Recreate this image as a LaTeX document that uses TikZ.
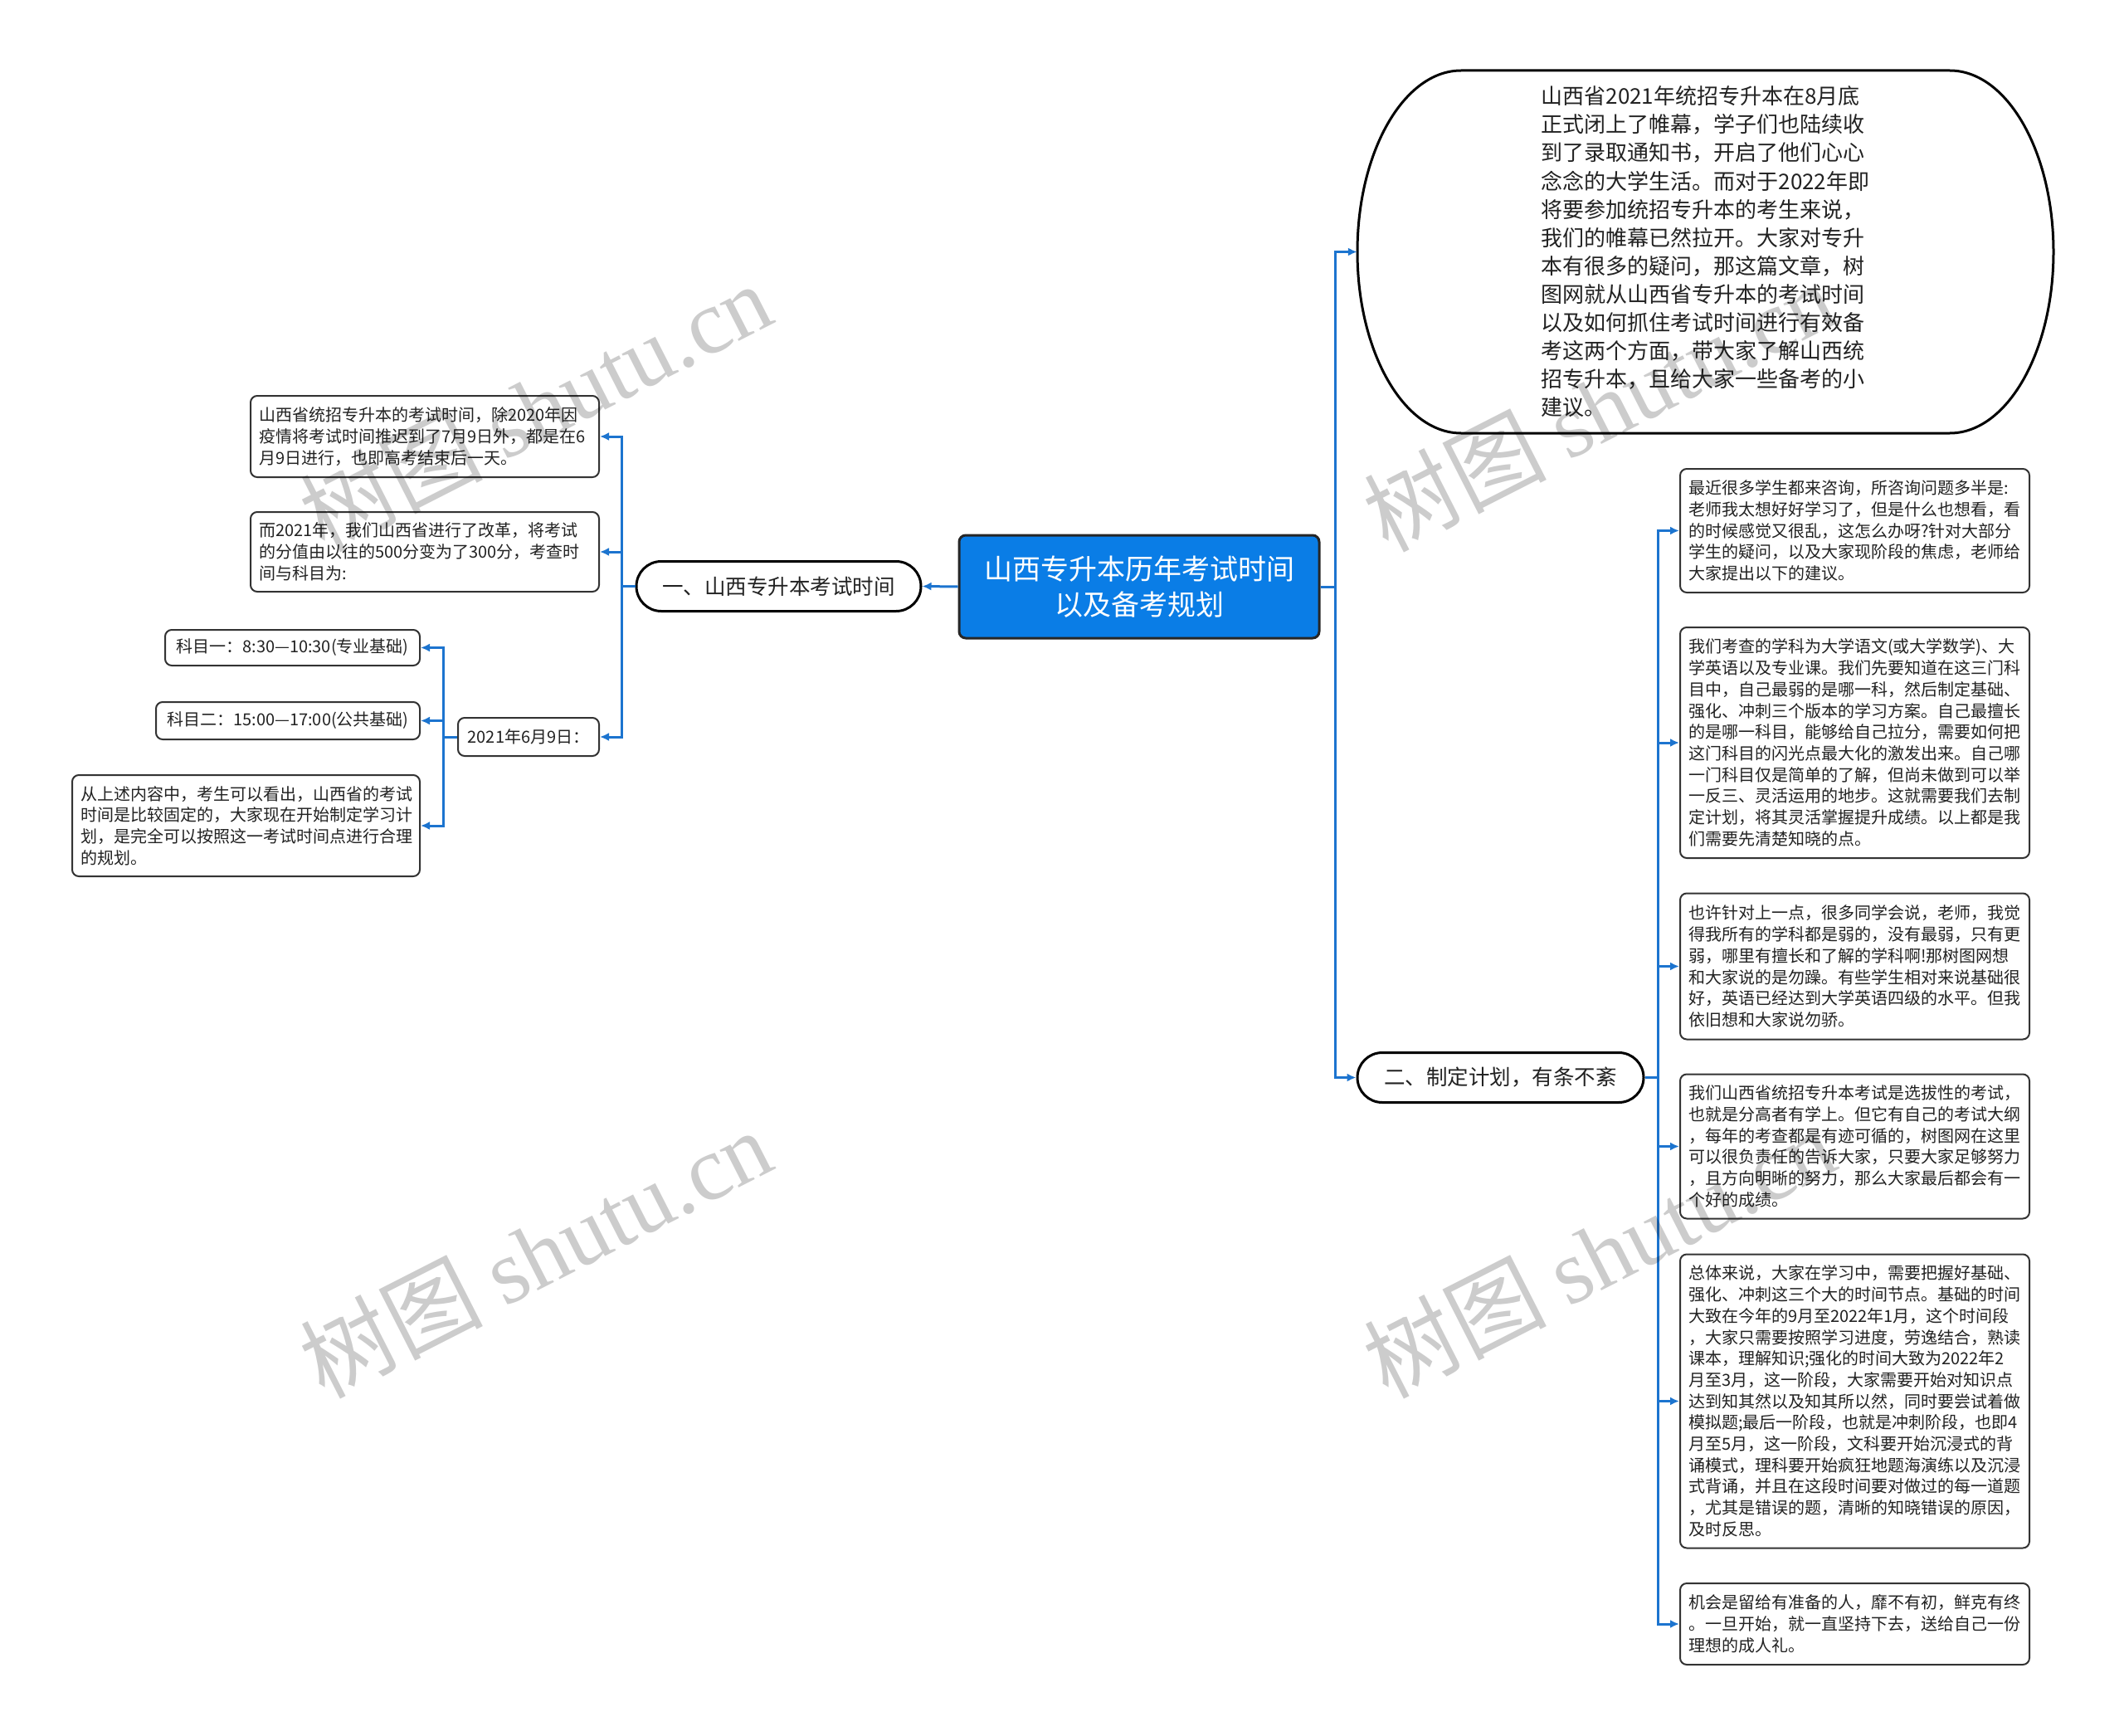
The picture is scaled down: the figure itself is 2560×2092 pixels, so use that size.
\documentclass[tikz,border=0pt]{standalone}
\usepackage{fontspec}
\setmainfont{Noto Sans CJK SC}
\newfontfamily\wmserif{Liberation Serif}
\usetikzlibrary{arrows.meta}
\definecolor{rootC}{HTML}{0A7DE6}
\definecolor{connC}{HTML}{1C74CF}
\definecolor{bordC}{HTML}{333333}
\definecolor{txtC}{HTML}{222222}
\tikzset{
  leaf/.style={draw=bordC, line width=2pt, rounded corners=8pt, fill=white, align=left,
    inner xsep=10pt, inner ysep=0pt, text=txtC, font=\fontsize{20pt}{25.7pt}\selectfont},
  leafc/.style={draw=bordC, line width=2pt, rounded corners=8pt, fill=white, align=center,
    inner xsep=8pt, inner ysep=0pt, text=txtC, font=\fontsize{20pt}{25.7pt}\selectfont},
  branch/.style={draw=black, line width=3pt, rounded corners=30pt, fill=white, align=center,
    inner sep=0pt, text=txtC, font=\fontsize{25.5pt}{32pt}\selectfont},
  rootbox/.style={draw=black!85, line width=3pt, rounded corners=8pt, fill=rootC, align=center,
    inner sep=0pt, text=white, font=\fontsize{34pt}{43pt}\selectfont},
  conn/.style={draw=connC, line width=3pt, -{Latex[length=11pt,width=10pt]}},
  wm/.style={text=black, opacity=0.2, font=\fontsize{110pt}{110pt}\selectfont, inner sep=0pt},
}
\begin{document}
\begin{tikzpicture}[x=1pt,y=-1pt]
\useasboundingbox (0,0) rectangle (2560,2092);
\fill[white] (0,0) rectangle (2560,2092);

% root
\node[rootbox, minimum width=434pt, minimum height=124pt] (root) at (1373,707)
  {山西专升本历年考试时间\\以及备考规划};

% branches
\node[branch, minimum width=343pt, minimum height=60pt] (b1) at (938.5,706.5) {一、山西专升本考试时间};
\node[branch, minimum width=345pt, minimum height=60pt] (b2) at (1808.5,1298.5) {二、制定计划，有条不紊};

% big rounded intro node
\draw[black, line width=3pt, fill=white]
  (1761,85) -- (2350,85)
  .. controls (2419,85) and (2475,182.8) .. (2475,303.5)
  .. controls (2475,424.2) and (2419,522) .. (2350,522)
  -- (1761,522)
  .. controls (1692,522) and (1636,424.2) .. (1636,303.5)
  .. controls (1636,182.8) and (1692,85) .. cycle;
\node[align=left, inner sep=0pt, minimum width=839pt, minimum height=437pt, text=txtC,
  font=\fontsize{26pt}{34.1pt}\selectfont] (ell) at (2055.5,303.5)
  {山西省2021年统招专升本在8月底\\
   正式闭上了帷幕，学子们也陆续收\\
   到了录取通知书，开启了他们心心\\
   念念的大学生活。而对于2022年即\\
   将要参加统招专升本的考生来说，\\
   我们的帷幕已然拉开。大家对专升\\
   本有很多的疑问，那这篇文章，树\\
   图网就从山西省专升本的考试时间\\
   以及如何抓住考试时间进行有效备\\
   考这两个方面，带大家了解山西统\\
   招专升本，且给大家一些备考的小\\
   建议。};

% left children
\node[leaf, text width=400pt, minimum height=98pt] (c1) at (512,526)
  {山西省统招专升本的考试时间，除2020年因\\疫情将考试时间推迟到了7月9日外，都是在6\\月9日进行，也即高考结束后一天。};
\node[leaf, text width=400pt, minimum height=96pt] (c2) at (512,665)
  {而2021年，我们山西省进行了改革，将考试\\的分值由以往的500分变为了300分，考查时\\间与科目为:};
\node[leafc, minimum width=170pt, minimum height=46pt] (c3) at (637,888) {2021年6月9日：};

\node[leafc, minimum width=307pt, minimum height=43pt] (g1) at (352.5,780.5) {科目一：8:30—10:30(专业基础)};
\node[leafc, minimum width=318pt, minimum height=45pt] (g2) at (347,868.5) {科目二：15:00—17:00(公共基础)};
\node[leaf, text width=399pt, minimum height=122pt] (g3) at (296.5,995)
  {从上述内容中，考生可以看出，山西省的考试\\时间是比较固定的，大家现在开始制定学习计\\划，是完全可以按照这一考试时间点进行合理\\的规划。};

% right children
\node[leaf, text width=401pt, minimum height=149pt] (r1) at (2235.5,639.5)
  {最近很多学生都来咨询，所咨询问题多半是:\\老师我太想好好学习了，但是什么也想看，看\\的时候感觉又很乱，这怎么办呀?针对大部分\\学生的疑问，以及大家现阶段的焦虑，老师给\\大家提出以下的建议。};
\node[leaf, text width=401pt, minimum height=278pt] (r2) at (2235.5,895)
  {我们考查的学科为大学语文(或大学数学)、大\\学英语以及专业课。我们先要知道在这三门科\\目中，自己最弱的是哪一科，然后制定基础、\\强化、冲刺三个版本的学习方案。自己最擅长\\的是哪一科目，能够给自己拉分，需要如何把\\这门科目的闪光点最大化的激发出来。自己哪\\一门科目仅是简单的了解，但尚未做到可以举\\一反三、灵活运用的地步。这就需要我们去制\\定计划，将其灵活掌握提升成绩。以上都是我\\们需要先清楚知晓的点。};
\node[leaf, text width=401pt, minimum height=176pt] (r3) at (2235.5,1164.5)
  {也许针对上一点，很多同学会说，老师，我觉\\得我所有的学科都是弱的，没有最弱，只有更\\弱，哪里有擅长和了解的学科啊!那树图网想\\和大家说的是勿躁。有些学生相对来说基础很\\好，英语已经达到大学英语四级的水平。但我\\依旧想和大家说勿骄。};
\node[leaf, text width=401pt, minimum height=174pt] (r4) at (2235.5,1381.5)
  {我们山西省统招专升本考试是选拔性的考试，\\也就是分高者有学上。但它有自己的考试大纲\\，每年的考查都是有迹可循的，树图网在这里\\可以很负责任的告诉大家，只要大家足够努力\\，且方向明晰的努力，那么大家最后都会有一\\个好的成绩。};
\node[leaf, text width=401pt, minimum height=354pt] (r5) at (2235.5,1688.5)
  {总体来说，大家在学习中，需要把握好基础、\\强化、冲刺这三个大的时间节点。基础的时间\\大致在今年的9月至2022年1月，这个时间段\\，大家只需要按照学习进度，劳逸结合，熟读\\课本，理解知识;强化的时间大致为2022年2\\月至3月，这一阶段，大家需要开始对知识点\\达到知其然以及知其所以然，同时要尝试着做\\模拟题;最后一阶段，也就是冲刺阶段，也即4\\月至5月，这一阶段，文科要开始沉浸式的背\\诵模式，理科要开始疯狂地题海演练以及沉浸\\式背诵，并且在这段时间要对做过的每一道题\\，尤其是错误的题，清晰的知晓错误的原因，\\及时反思。};
\node[leaf, text width=401pt, minimum height=98pt] (r6) at (2235.5,1957)
  {机会是留给有准备的人，靡不有初，鲜克有终\\。一旦开始，就一直坚持下去，送给自己一份\\理想的成人礼。};

% connectors
\draw[conn] (root.west) -- (b1.east);
\foreach \n in {c1,c2,c3} \draw[conn] (b1.west) -- ++(-16,0) |- (\n.east);
\foreach \n in {g1,g2,g3} \draw[conn] (c3.west) -- ++(-17,0) |- (\n.east);
\foreach \n in {ell,b2} \draw[conn] (root.east) -- ++(18,0) |- (\n.west);
\foreach \n in {r1,r2,r3,r4,r5,r6} \draw[conn] (b2.east) -- ++(16,0) |- (\n.west);

% watermarks
\node[wm, rotate=27] (wm1) at (645,490) {树图 {\wmserif shutu.cn}};
\node[wm, rotate=27] (wm2) at (645,1510) {树图 {\wmserif shutu.cn}};
\node[wm, rotate=27] (wm3) at (1927,490) {树图 {\wmserif shutu.cn}};
\node[wm, rotate=27] (wm4) at (1927,1510) {树图 {\wmserif shutu.cn}};
\end{tikzpicture}
\end{document}
